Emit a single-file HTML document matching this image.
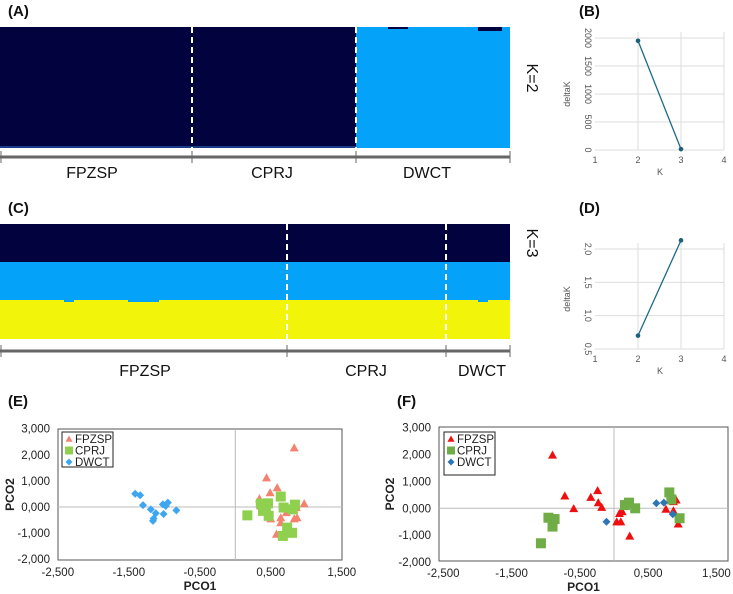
<!DOCTYPE html>
<html><head><meta charset="utf-8">
<style>
html,body{margin:0;padding:0;background:#fff;}
svg{display:block;font-family:"Liberation Sans",Arial,sans-serif;}
</style></head>
<body>
<svg id="fig" width="733" height="594" viewBox="0 0 733 594" xmlns="http://www.w3.org/2000/svg">
<g id="root"></g>
</svg>
<script>
// ---- data ----
const groupsA = ["FPZSP","CPRJ","DWCT"];
const groupBoundsA = [0, 192, 356, 510]; // layout bounds of groups (structure plot)
const groupsC = ["FPZSP","CPRJ","DWCT"];
const groupBoundsC = [0, 287, 446, 510];
const kValsB = [2, 3];
const deltaKB = [1950, 15];
const kValsD = [2, 3];
const deltaKD = [0.70, 2.13];
const ticksB = [0, 500, 1000, 1500, 2000];
const ticksD = [0.5, 1.0, 1.5, 2.0];
const ticksK = [1, 2, 3, 4];
const pcoXTicks = [-2.5, -1.5, -0.5, 0.5, 1.5];
const pcoXTickLabels = ["-2,500","-1,500","-0,500","0,500","1,500"];
const pcoYTicks = [3, 2, 1, 0, -1, -2];
const pcoYTickLabels = ["3,000","2,000","1,000","0,000","-1,000","-2,000"];
const eFPZSPx = [0.83,0.44,0.59,0.49,0.34,0.97,0.86,0.72,0.64,0.64,0.83,0.87,0.58,0.50,0.48,0.36];
const eFPZSPy = [2.27,1.12,0.74,0.55,0.32,0.13,-0.02,-0.21,-0.41,-0.60,-0.45,-0.41,-1.04,-0.45,-0.21,0.04];
const eCPRJx = [0.17,0.36,0.46,0.64,0.68,0.84,0.81,0.39,0.47,0.73,0.80,0.67,0.43];
const eCPRJy = [-0.32,0.13,0.14,0.40,-0.02,0.09,-0.09,-0.15,-0.34,-0.79,-0.99,-1.11,-0.05];
const eDWCTx = [-1.41,-1.34,-1.30,-1.19,-1.15,-1.16,-1.12,-1.02,-1.01,-0.98,-0.95,-0.83];
const eDWCTy = [0.51,0.45,0.07,-0.09,-0.44,-0.53,-0.24,0.10,-0.27,0.04,0.17,-0.13];
const fFPZSPx = [-0.90,-0.72,-0.59,-0.34,-0.24,-0.23,-0.18,0.04,0.10,0.08,0.12,0.23,0.76,0.87,0.91,0.87,0.94];
const fFPZSPy = [1.98,0.46,-0.01,0.41,0.66,0.21,0.04,-0.50,-0.50,-0.19,-0.12,-1.03,-0.03,0.25,0.31,-0.09,-0.58];
const fCPRJx = [-1.07,-0.96,-0.87,-0.90,0.16,0.22,0.31,0.81,0.84,0.96];
const fCPRJy = [-1.30,-0.35,-0.40,-0.68,0.12,0.21,0.00,0.59,0.33,-0.37];
const fDWCTx = [-0.11,0.62,0.73,0.86];
const fDWCTy = [-0.50,0.19,0.21,-0.22];

const NS="http://www.w3.org/2000/svg";
const root=document.getElementById('root');
function mk(tag,attrs,parent){const e=document.createElementNS(NS,tag);for(const k in attrs)e.setAttribute(k,attrs[k]);(parent||root).appendChild(e);return e;}
function txt(s,attrs,parent){const e=mk('text',attrs,parent);e.textContent=s;return e;}

const NAVY="#02023f", BLUE="#04a2f8", YEL="#f2f50a";

// ---- panel labels ----
[["(A)",8,16],["(B)",579,16],["(C)",8,213],["(D)",579,213],["(E)",8,406],["(F)",397,406]].forEach(p=>{
  const t=txt(p[0],{x:p[1],y:p[2],'font-size':15,'font-weight':'bold',fill:'#111'});
  
  
});

// ---- structure plots ----
function structure(name,top,bottom,bounds,groups,axisY,labelY,labelXs,layers,kText,kY){
  const g=mk('g',{});
  
  
  layers.forEach(L=>{
    const r=mk('rect',{x:bounds[0],y:L[0],width:bounds[bounds.length-1]-bounds[0],height:L[1]-L[0],fill:L[2]},g);
    
    
  });
  for(let i=1;i<bounds.length-1;i++){
    const l=mk('line',{x1:bounds[i],x2:bounds[i],y1:top,y2:bottom,stroke:'#fff','stroke-width':2,'stroke-dasharray':'6,4'},g);
    
    
  }
  const ax=mk('line',{x1:bounds[0],x2:bounds[bounds.length-1],y1:axisY,y2:axisY,stroke:'#666','stroke-width':3},g);
  
  
  bounds.forEach(b=>{const t=mk('line',{x1:b+(b===0?1:0),x2:b+(b===0?1:0),y1:axisY-6,y2:axisY+6,stroke:'#666','stroke-width':1},g);
    });
  groups.forEach((s,i)=>{const t=txt(s,{x:labelXs[i],y:labelY,'font-size':16,'text-anchor':'middle',fill:'#111'},g);
    });
  const k=txt(kText,{x:0,y:0,'font-size':16,fill:'#111','text-anchor':'middle',transform:`translate(527,${kY}) rotate(90)`},g);
  
  return g;
}
const gA=structure('structure-plot-k2',27,148,groupBoundsA,groupsA,157,178,[92,272,427],
  [[27,148,NAVY]],'K=2',78);
// DWCT light blue segment + small details
mk('rect',{x:356,y:27,width:154,height:121,fill:BLUE},gA);
mk('rect',{x:478,y:27,width:24,height:4,fill:NAVY},gA);
mk('rect',{x:388,y:27,width:20,height:2,fill:NAVY},gA);
mk('rect',{x:0,y:146,width:356,height:2,fill:'#1a3d8a'},gA);
// redraw dividers on top
[192,356].forEach(b=>mk('line',{x1:b,x2:b,y1:27,y2:148,stroke:'#fff','stroke-width':2,'stroke-dasharray':'6,4'},gA));

const gC=structure('structure-plot-k3',224,339,groupBoundsC,groupsC,351,376,[145,366,482],
  [[224,262,NAVY],[262,300,BLUE],[300,339,YEL]],'K=3',243);
[[64,10],[128,31],[478,10]].forEach(b=>mk('rect',{x:b[0],y:299,width:b[1],height:3,fill:BLUE},gC));

// ---- deltaK plots ----
function deltaPlot(name,top,bottom,ticks,ymin,ymax,ks,vals,tickLabels){
  const g=mk('g',{});
  
  
  const x=k=>595+(k-1)*43;
  const y0=bottom, y1=top;
  const y=v=>y0-(v-ymin)/(ymax-ymin)*(y0-y1);
  ticks.forEach((t,i)=>{
    const l=mk('line',{x1:595,x2:724,y1:y(t),y2:y(t),stroke:'#ddd','stroke-width':1},g);
    
    const lab=txt(tickLabels[i],{x:0,y:0,'font-size':9,fill:'#555','text-anchor':'middle',transform:`translate(585,${y(t)}) rotate(90)`},g);
    
  });
  ticksK.forEach(k=>{
    if(k>1){const l=mk('line',{x1:x(k),x2:x(k),y1:y(ticks[ticks.length-1])-6,y2:y(ticks[0]),stroke:'#ddd'},g);
      }
    const lab=txt(String(k),{x:x(k),y:y(ticks[0])+13,'font-size':9,fill:'#555','text-anchor':'middle'},g);
    
  });
  const pts=ks.map((k,i)=>x(k)+','+y(vals[i])).join(' ');
  const pl=mk('polyline',{points:pts,fill:'none',stroke:'#1d6a86','stroke-width':1.3},g);
  
  ks.forEach((k,i)=>{const c=mk('circle',{cx:x(k),cy:y(vals[i]),r:2.3,fill:'#1d5f78'},g);
    });
  const yl=txt('deltaK',{x:0,y:0,'font-size':9,fill:'#555','text-anchor':'middle',transform:`translate(570,${(y0+y1)/2}) rotate(-90)`},g);
  
  const xl=txt('K',{x:660,y:y(ticks[0])+25,'font-size':9,fill:'#555','text-anchor':'middle'},g);
  
}
deltaPlot('deltak-plot-b',38,150,ticksB,0,2000,kValsB,deltaKB,["0","500","1000","1500","2000"]);
deltaPlot('deltak-plot-d',249,349,ticksD,0.5,2.0,kValsD,deltaKD,["0,5","1,0","1,5","2,0"]);

// ---- PCoA plots ----
function marker(g,shape,cx,cy,s,color,nm){
  let e;
  if(shape==='tri') e=mk('polygon',{points:`${cx},${cy-s} ${cx+s},${cy+s*0.8} ${cx-s},${cy+s*0.8}`,fill:color},g);
  else if(shape==='sq') e=mk('rect',{x:cx-s,y:cy-s,width:2*s,height:2*s,fill:color},g);
  else e=mk('polygon',{points:`${cx},${cy-s} ${cx+s},${cy} ${cx},${cy+s} ${cx-s},${cy}`,fill:color},g);
  
  
  return e;
}
function pcoa(name,fl,fr,ft,fb,x0,ux,y0,uy,series,legend,yLabRight,ytitleX){
  const g=mk('g',{});
  
  
  const X=v=>x0+v*ux, Y=v=>y0-v*uy;
  const fr_=mk('rect',{x:fl,y:ft,width:fr-fl,height:fb-ft,fill:'#fff',stroke:'#555','stroke-width':1},g);
  
  const vl=mk('line',{x1:X(0),x2:X(0),y1:ft,y2:fb,stroke:'#bbb'},g);
  
  const hl=mk('line',{x1:fl,x2:fr,y1:Y(0),y2:Y(0),stroke:'#bbb'},g);
  
  pcoYTicks.forEach((t,i)=>{const l=txt(pcoYTickLabels[i],{x:yLabRight,y:Y(t)+4,'font-size':11.5,'text-anchor':'end',fill:'#222'},g);
    });
  pcoXTicks.forEach((t,i)=>{const l=txt(pcoXTickLabels[i],{x:X(t),y:fb+16,'font-size':11.5,'text-anchor':'middle',fill:'#222'},g);
    });
  const xt=txt('PCO1',{x:(fl+fr)/2,y:fb+30,'font-size':12,'font-weight':'bold','text-anchor':'middle',fill:'#222'},g);
  
  const yt=txt('PCO2',{x:0,y:0,'font-size':12,'font-weight':'bold','text-anchor':'middle',fill:'#222',transform:`translate(${ytitleX},${(ft+fb)/2}) rotate(-90)`},g);
  
  series.forEach(s=>{s.xs.forEach((v,i)=>marker(g,s.shape,X(v),Y(s.ys[i]),s.size,s.color,s.name+'-point'));});
  const lg=mk('g',{},g);
  
  mk('rect',{x:legend[0],y:legend[1],width:legend[2],height:legend[3],fill:'#fff',stroke:'#222'},lg);
  series.forEach((s,i)=>{
    const cy=legend[1]+7+i*11.5;
    const m=marker(lg,s.shape,legend[0]+7,cy,s.shape==='sq'?4:3.5,s.color,'legend-marker');
    const t=txt(s.label,{x:legend[0]+13,y:cy+4,'font-size':11.5,fill:'#222'},lg);
    
  });
}
pcoa('pcoa-plot-e',58,342,429,560,235.3,71,507,26.1,[
  {name:'fpzsp',label:'FPZSP',shape:'tri',size:4.5,color:'#f4826f',xs:eFPZSPx,ys:eFPZSPy},
  {name:'cprj',label:'CPRJ',shape:'sq',size:5,color:'#8fd14f',xs:eCPRJx,ys:eCPRJy},
  {name:'dwct',label:'DWCT',shape:'dia',size:4,color:'#3ea6f0',xs:eDWCTx,ys:eDWCTy}],
  [62,432,51,35],50,14);
pcoa('pcoa-plot-f',439,728,427,561,614,68.3,508.3,26.9,[
  {name:'fpzsp',label:'FPZSP',shape:'tri',size:4.5,color:'#ee1010',xs:fFPZSPx,ys:fFPZSPy},
  {name:'cprj',label:'CPRJ',shape:'sq',size:5,color:'#70ad47',xs:fCPRJx,ys:fCPRJy},
  {name:'dwct',label:'DWCT',shape:'dia',size:4,color:'#2e75b6',xs:fDWCTx,ys:fDWCTy}],
  [444,432,51,43],431,394);
</script>
</body></html>
